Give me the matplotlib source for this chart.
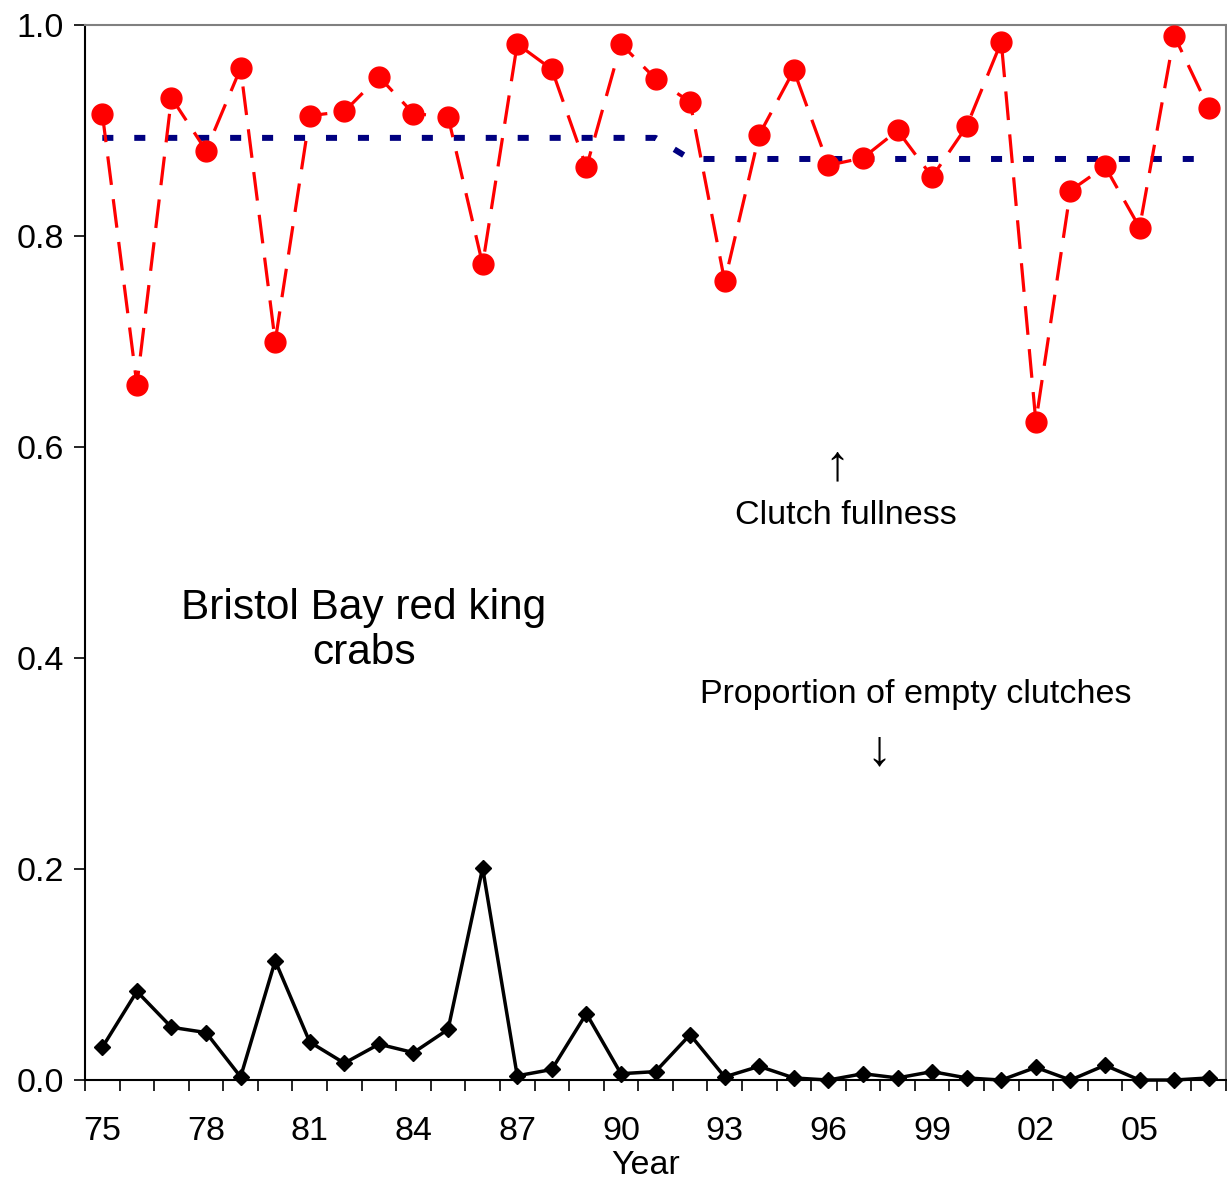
import matplotlib
matplotlib.use('Agg')
import matplotlib.pyplot as plt
import numpy as np

plt.rcParams['font.family'] = ['Liberation Sans', 'DejaVu Sans']

# survey years (two-digit labels on the axis)
years = np.arange(1975, 2008)
year_labels = ['75', '78', '81', '84', '87', '90', '93', '96', '99', '02', '05']

# mean clutch fullness
fullness = [0.916, 0.659, 0.931, 0.881, 0.959, 0.700, 0.914, 0.918, 0.951, 0.916,
            0.913, 0.773, 0.982, 0.958, 0.865, 0.982, 0.949, 0.927, 0.757, 0.896,
            0.957, 0.867, 0.874, 0.900, 0.856, 0.904, 0.984, 0.624, 0.843, 0.866,
            0.808, 0.990, 0.921]

# proportion of empty clutches
empty = [0.031, 0.084, 0.050, 0.045, 0.003, 0.113, 0.036, 0.016, 0.034, 0.026,
         0.048, 0.201, 0.004, 0.010, 0.063, 0.006, 0.008, 0.043, 0.003, 0.013,
         0.002, 0.000, 0.006, 0.002, 0.008, 0.002, 0.000, 0.012, 0.000, 0.014,
         0.000, 0.000, 0.002]

# period means of fullness (1975-91, 1992-2007)
mean_early = 0.893
mean_late = 0.873
mean_line = [mean_early if y <= 1991 else mean_late for y in years]

x = years - 1900

fig = plt.figure(figsize=(12.27, 11.84), dpi=100)
ax = fig.add_axes([0.0693, 0.0878, 0.9299, 0.8911])

ax.plot(x, mean_line, color='#000080', lw=4.3, dashes=(1.85, 3.5), zorder=2)
ax.plot(x, fullness, color='red', lw=2.3, dashes=(9, 4.5), marker='o', ms=15,
        mec='red', mfc='red', zorder=3, clip_on=False)
ax.plot(x, empty, color='black', lw=2.5, marker='D', ms=8.2, zorder=3, clip_on=False)

ax.set_xlim(74.5, 107.5)
ax.set_ylim(0, 1.0)

ax.set_xticks(np.arange(75, 108, 3))
ax.set_xticklabels(year_labels)
ax.set_xticks(np.arange(74.5, 108, 1), minor=True)
ax.tick_params(axis='x', which='major', length=0, pad=26, labelsize=24.5)
ax.tick_params(axis='x', which='minor', length=8, width=1.2, direction='out')

ax.set_yticks(np.arange(0, 1.01, 0.2))
ax.set_yticklabels(['%.1f' % v for v in np.arange(0, 1.01, 0.2)])
ax.tick_params(axis='y', length=8, width=1.2, direction='out', pad=7, labelsize=24.5)

for s in ['top', 'right']:
    ax.spines[s].set_color('#808080')
    ax.spines[s].set_linewidth(1.5)
for s in ['left', 'bottom']:
    ax.spines[s].set_color('black')
    ax.spines[s].set_linewidth(1.5)

ax.set_xlabel('Year', fontsize=24.5, labelpad=0)
ax.xaxis.set_label_coords(0.4917, -0.066)

ax.text(82.56, 0.426, 'Bristol Bay red king\ncrabs', fontsize=30.5, ha='center',
        va='center', linespacing=1.15)
ax.text(96.23, 0.582, '\u2191', fontsize=36, ha='center', va='center')
ax.text(96.5, 0.535, 'Clutch fullness', fontsize=24.5, ha='center', va='center')
ax.text(98.52, 0.365, 'Proportion of empty clutches', fontsize=24.5, ha='center', va='center')
ax.text(97.45, 0.311, '\u2193', fontsize=36, ha='center', va='center')

plt.savefig('out.png', dpi=100)
